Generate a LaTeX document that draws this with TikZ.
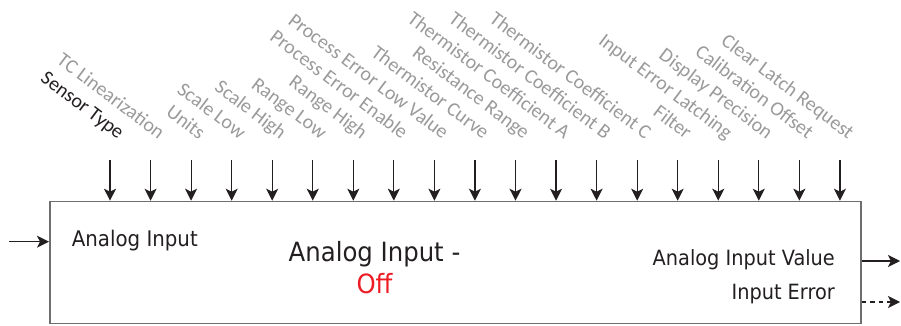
\documentclass[tikz,border=0pt]{standalone}
\usepackage{fontspec}
\setmainfont{DejaVu Sans}[FakeStretch=0.92]
\newfontfamily\lblfont{Carlito}
\usetikzlibrary{arrows.meta}
\definecolor{lblgray}{HTML}{9A9A9C}
\definecolor{offred}{HTML}{ED1C24}
\definecolor{ink}{HTML}{231F20}
\definecolor{boxgray}{HTML}{6E6E6E}
\begin{document}
\begin{tikzpicture}[x=1pt,y=-1pt,
  inarrow/.style={draw=ink, line width=1.2pt, arrows={-Stealth[length=12pt,width=12pt,inset=3pt]}},
  lbl/.style={font=\lblfont\fontsize{20}{20}\selectfont, text=lblgray, rotate=-37, anchor=base east, inner sep=0pt},
  boxtxt/.style={font=\fontsize{21}{25}\selectfont, text=ink, inner sep=0pt},
  titletxt/.style={font=\fontsize{26.5}{30}\selectfont, inner sep=0pt, anchor=base},
  blockbox/.style={draw=boxgray, line width=1.6pt, inner sep=0pt, minimum width=811pt, minimum height=122pt}]
\useasboundingbox (0,0) rectangle (901,325);
\node[blockbox, anchor=north west] (blk) at (49,200.7) {};
% top parameter inputs
\foreach \i/\t in {0/Sensor Type,1/TC Linearization,2/Units,3/Scale Low,4/Scale High,5/Range Low,6/Range High,7/Process Error Enable,8/Process Error Low Value,9/Thermistor Curve,10/Resistance Range,11/Thermistor Coefficient A,12/Thermistor Coefficient B,13/Thermistor Coefficient C,14/Filter,15/Input Error Latching,16/Display Precision,17/Calibration Offset,18/Clear Latch Request}{
  \pgfmathsetmacro{\xx}{110+40.55*\i}
  \coordinate (a\i) at (\xx,160);
  \draw[inarrow] (a\i) -- (a\i |- blk.north);
  \ifnum\i=0
    \node[lbl, text=ink] (l\i) at (\xx+8,140) {\t};
  \else
    \node[lbl] (l\i) at (\xx+8,140) {\t};
  \fi
}
% left input
\coordinate (inL) at (9,241.7);
\draw[inarrow] (inL) -- (inL -| blk.west);
% outputs
\coordinate (outV) at (900,261);
\coordinate (outE) at (900,302);
\draw[inarrow] (outV -| blk.east) -- (outV);
\draw[inarrow, dash pattern=on 4.5pt off 4pt] (outE -| blk.east) -- (outE);
% texts
\node[boxtxt, font=\fontsize{21.5}{25}\selectfont, anchor=base west] (ain) at (71.7,246) {Analog Input};
\node[titletxt, text=ink] (title) at (374.5,261.7) {Analog Input -};
\node[titletxt, text=offred] (state) at (374.5,293.3) {Off};
\node[boxtxt, anchor=base east] (aiv) at (835,265) {Analog Input Value};
\node[boxtxt, anchor=base east] (ierr) at (835,299.3) {Input Error};
\end{tikzpicture}
\end{document}
